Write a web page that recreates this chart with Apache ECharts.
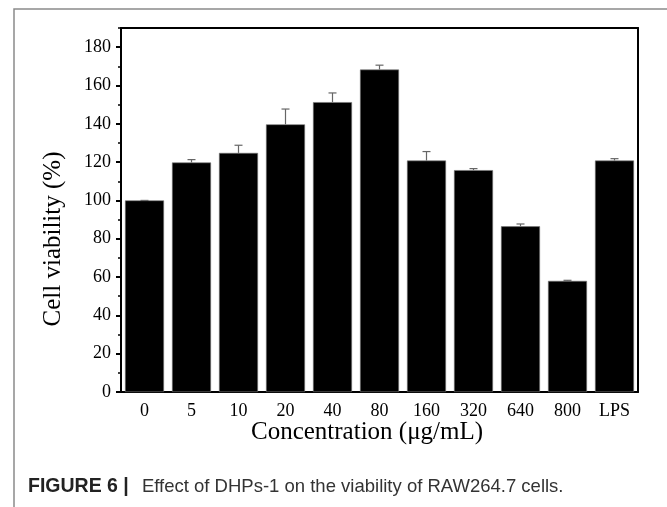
<!DOCTYPE html>
<html>
<head>
<meta charset="utf-8">
<script src="https://cdn.jsdelivr.net/npm/echarts@6/dist/echarts.min.js"></script>
<style>
  html, body { margin: 0; padding: 0; background: #fff; }
  #chart { width: 667px; height: 507px; }
</style>
</head>
<body>
<div id="chart"></div>
<script>
// Concentration groups on the x axis
const categories = ['0', '5', '10', '20', '40', '80', '160', '320', '640', '800', 'LPS'];
// Mean cell viability (%) per group
const viability = [100, 119.8, 124.8, 139.7, 151.3, 168.3, 120.8, 115.8, 86.5, 58, 120.8];
// Standard deviation (upper error bar only)
const errors = [0, 1.5, 4, 8, 4.8, 2.3, 4.7, 0.8, 1.2, 0.3, 1];

const serif = '"Liberation Serif", "Times New Roman", serif';
const sans = '"Liberation Sans", Arial, sans-serif';

const chart = echarts.init(document.getElementById('chart'), null, { renderer: 'canvas' });

const grid = { left: 121, top: 28, right: 29, bottom: 115 };

chart.setOption({
  animation: false,
  backgroundColor: '#fff',
  grid: grid,
  xAxis: [
    { // labelled axis with ticks at category centres
      type: 'category', data: categories, position: 'bottom',
      axisLine: { onZero: false, lineStyle: { color: '#000', width: 2 } },
      axisTick: { alignWithLabel: true, length: 5, lineStyle: { color: '#000', width: 2 } },
      axisLabel: { fontFamily: serif, fontSize: 18, color: '#000', margin: 10 }
    },
    { // short ticks on category boundaries
      type: 'category', data: categories, position: 'bottom',
      axisLine: { show: false, onZero: false },
      axisTick: { length: 3, lineStyle: { color: '#000', width: 1.5 } },
      axisLabel: { show: false }
    },
    { // top frame line
      type: 'category', data: categories, position: 'top',
      axisLine: { onZero: false, lineStyle: { color: '#000', width: 2 } },
      axisTick: { show: false }, axisLabel: { show: false }
    }
  ],
  yAxis: [
    {
      type: 'value', min: 0, max: 190, interval: 20, position: 'left',
      splitLine: { show: false },
      axisLine: { show: true, onZero: false, lineStyle: { color: '#000', width: 2 } },
      axisTick: { show: true, length: 5, lineStyle: { color: '#000', width: 2 } },
      axisLabel: { fontFamily: serif, fontSize: 18, color: '#000', margin: 10, showMaxLabel: false }
    },
    { // minor ticks every 10 %
      type: 'value', min: 0, max: 190, interval: 10, position: 'left',
      splitLine: { show: false },
      axisLine: { show: false, onZero: false },
      axisTick: { show: true, length: 3, lineStyle: { color: '#000', width: 1.5 } },
      axisLabel: { show: false }
    },
    { // right frame line
      type: 'value', min: 0, max: 190, position: 'right',
      splitLine: { show: false },
      axisLine: { show: true, onZero: false, lineStyle: { color: '#000', width: 2 } },
      axisTick: { show: false }, axisLabel: { show: false }
    }
  ],
  series: [
    {
      type: 'bar',
      data: viability,
      barWidth: 39,
      itemStyle: { color: '#000', borderColor: '#777', borderWidth: 0.6 }
    },
    {
      type: 'custom',
      data: viability.map((v, i) => [i, v, errors[i]]),
      z: 3,
      renderItem: function (params, api) {
        const i = api.value(0);
        const v = api.value(1);
        const e = api.value(2);
        const base = api.coord([i, v]);
        const top = api.coord([i, v + e]);
        const cap = 4;
        return {
          type: 'group',
          children: [
            { type: 'line', shape: { x1: base[0], y1: base[1], x2: top[0], y2: top[1] },
              style: { stroke: '#666', lineWidth: 1.2 } },
            { type: 'line', shape: { x1: top[0] - cap, y1: top[1], x2: top[0] + cap, y2: top[1] },
              style: { stroke: '#666', lineWidth: 1.2 } }
          ]
        };
      }
    }
  ],
  graphic: [
    { // figure panel border
      type: 'polyline', silent: true,
      shape: { points: [[14, 507], [14, 9], [667, 9]] },
      style: { stroke: '#8a8a8a', lineWidth: 1.5, fill: null }
    },
    {
      type: 'text', x: 53, y: 239, rotation: Math.PI / 2,
      style: { text: 'Cell viability (%)', font: '25px ' + serif, fill: '#000',
               textAlign: 'center', textVerticalAlign: 'middle' }
    },
    {
      type: 'text', x: 367, y: 432,
      style: { text: 'Concentration (μg/mL)', font: '25px ' + serif, fill: '#000',
               textAlign: 'center', textVerticalAlign: 'middle' }
    },
    {
      type: 'text', x: 28, y: 487,
      style: {
        text: '{b|FIGURE 6 |} Effect of DHPs-1 on the viability of RAW264.7 cells.',
        rich: {
          b: { fontFamily: sans, fontWeight: 'bold', fontSize: 19.5, fill: '#222', padding: [0, 8, 0, 0] }
        },
        fontFamily: sans, fontSize: 18.5, fill: '#333',
        textVerticalAlign: 'middle'
      }
    }
  ]
});
</script>
</body>
</html>
